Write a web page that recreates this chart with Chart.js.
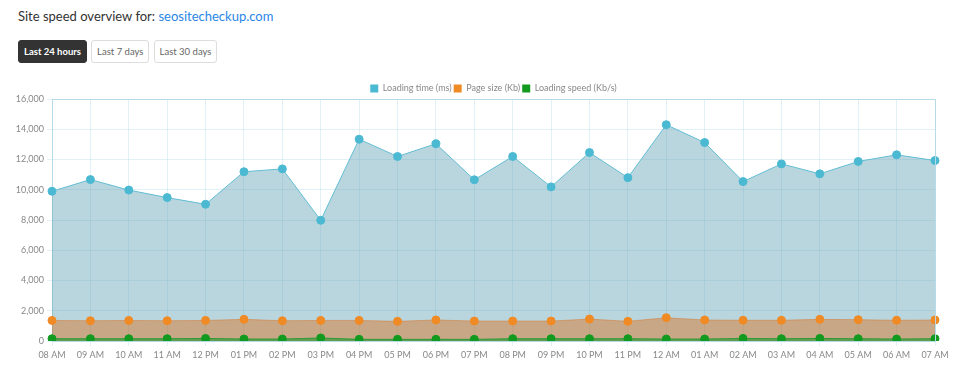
<!DOCTYPE html>
<html>
<head>
<meta charset="utf-8">
<script src="https://cdn.jsdelivr.net/npm/chart.js@4/dist/chart.umd.min.js"></script>
<style>
  body { margin: 0; background: #fff; font-family: Lato, "Open Sans", sans-serif; width: 960px; height: 376px; overflow: hidden; position: relative; }
  .titulo { position: absolute; left: 18px; top: 8px; font-size: 13px; color: #333; }
  .titulo a { color: #2a86e6; text-decoration: none; }
  .botoes { position: absolute; left: 18px; top: 40px; }
  .botoes span { display: inline-block; box-sizing: border-box; height: 23px; line-height: 21px; padding: 0 5px; margin-right: 0; font-size: 9.5px; color: #666; border: 1px solid #ddd; border-radius: 3px; vertical-align: top; }
  .botoes span.ativo { background: #333; color: #fff; font-weight: bold; border-color: #333; }
  .grafico { position: absolute; left: 0; top: 82px; width: 960px; height: 294px; }
</style>
</head>
<body>
<div class="titulo">Site speed overview for: <a href="#">seositecheckup.com</a></div>
<div class="botoes"><span class="ativo">Last 24 hours</span> <span>Last 7 days</span> <span>Last 30 days</span></div>
<div class="grafico"><canvas id="graf-velocidade"></canvas></div>
<script>
// Dados
const horas = ["08 AM", "09 AM", "10 AM", "11 AM", "12 PM", "01 PM", "02 PM", "03 PM", "04 PM", "05 PM", "06 PM", "07 PM",
  "08 PM", "09 PM", "10 PM", "11 PM", "12 AM", "01 AM", "02 AM", "03 AM", "04 AM", "05 AM", "06 AM", "07 AM"];
const tempoCarga = [9900, 10670, 9980, 9480, 9040, 11190, 11380, 7980, 13340, 12200, 13040, 10660,
  12200, 10190, 12460, 10800, 14300, 13120, 10540, 11710, 11050, 11870, 12310, 11930];
const tamanhoPagina = [1360, 1340, 1360, 1340, 1360, 1430, 1340, 1360, 1360, 1300, 1390, 1320,
  1320, 1320, 1450, 1300, 1540, 1390, 1370, 1370, 1430, 1410, 1370, 1390];
const velocidade = [150, 150, 150, 150, 170, 130, 130, 200, 110, 110, 110, 110,
  150, 150, 150, 150, 130, 130, 170, 150, 170, 150, 130, 150];

const corGrade = "rgba(190,225,238,0.45)";
const corEixo = "#b5dbe8";
const coresLegenda = ["#4cb9d2", "#f08a24", "#129a1e"];

new Chart(document.getElementById("graf-velocidade"), {
  type: "line",
  data: {
    labels: horas,
    datasets: [
      { label: "Loading time (ms)", data: tempoCarga, order: 3, fill: "origin",
        borderColor: "#62bdd3", backgroundColor: "rgba(100,165,185,0.45)", borderWidth: 1,
        pointBackgroundColor: "#4cb9d2", pointBorderColor: "#4cb9d2", pointRadius: 4, tension: 0 },
      { label: "Page size (Kb)", data: tamanhoPagina, order: 2, fill: "origin",
        borderColor: "rgba(215,120,45,0.5)", backgroundColor: "rgba(215,120,45,0.5)", borderWidth: 1,
        pointBackgroundColor: "#f08a24", pointBorderColor: "#f08a24", pointRadius: 4, tension: 0 },
      { label: "Loading speed (Kb/s)", data: velocidade, order: 1, fill: "origin",
        borderColor: "#2f9a3a", backgroundColor: "rgba(30,150,40,0.6)", borderWidth: 1,
        pointBackgroundColor: "#129a1e", pointBorderColor: "#129a1e", pointRadius: 4, tension: 0 }
    ]
  },
  options: {
    responsive: true,
    maintainAspectRatio: false,
    animation: false,
    layout: { padding: { left: 0, right: 25, top: 0, bottom: 0 } },
    plugins: {
      tooltip: { enabled: false },
      legend: {
        fullSize: false,
        labels: {
          boxWidth: 8, boxHeight: 8, padding: 2, color: "#888",
          font: { size: 9, family: "Lato" },
          generateLabels: (chart) => chart.data.datasets.map((d, i) => ({
            text: d.label, fillStyle: coresLegenda[i], strokeStyle: coresLegenda[i],
            lineWidth: 0, fontColor: "#888", hidden: false, datasetIndex: i
          }))
        }
      }
    },
    scales: {
      x: {
        grid: { color: corGrade, tickLength: 5 },
        border: { color: corEixo },
        ticks: { color: "#888", font: { size: 9, family: "Lato" }, maxRotation: 0, autoSkip: false, padding: 4 },
        afterFit: (s) => { s.height = 35; }
      },
      y: {
        min: 0, max: 16000,
        grid: { color: corGrade, tickLength: 5 },
        border: { color: corEixo },
        ticks: { stepSize: 2000, color: "#888", font: { size: 9, family: "Lato" }, padding: 3 },
        afterFit: (s) => { s.width = 52; }
      }
    }
  },
  plugins: [{
    // legenda mais baixa, para a área do gráfico começar mais perto dela
    id: "alturaLegenda",
    beforeLayout(chart) {
      const lg = chart.legend;
      if (lg && !lg._ajustada) {
        const fitOriginal = lg.fit.bind(lg);
        lg.fit = function () { fitOriginal(); this.height = 17; };
        lg._ajustada = true;
      }
    }
  }, {
    id: "borda",
    afterDraw(chart) {
      const a = chart.chartArea, ctx = chart.ctx;
      ctx.save();
      ctx.strokeStyle = corEixo;
      ctx.lineWidth = 1;
      ctx.beginPath();
      ctx.moveTo(a.left, a.top + 0.5); ctx.lineTo(a.right + 0.5, a.top + 0.5); ctx.lineTo(a.right + 0.5, a.bottom);
      ctx.stroke();
      ctx.restore();
    }
  }]
});
</script>
</body>
</html>
